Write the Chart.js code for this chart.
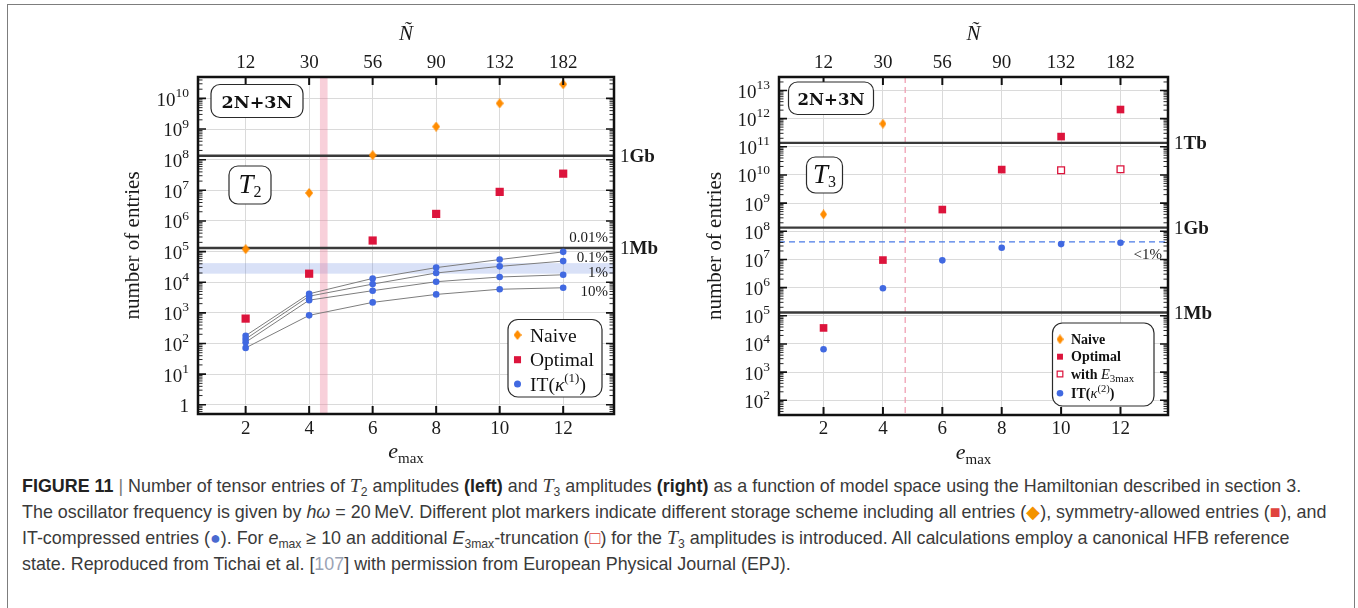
<!DOCTYPE html>
<html>
<head>
<meta charset="utf-8">
<script src="https://cdn.jsdelivr.net/npm/chart.js@4.4.1/dist/chart.umd.min.js"></script>
<style>
  html, body { margin: 0; padding: 0; background: #fff; }
  body { width: 1358px; height: 608px; position: relative; overflow: hidden; }
  #frame { position: absolute; left: 7px; top: 4px; width: 1348px; height: 660px; border: 1px solid #7d7d7d; box-sizing: border-box; }
  #t2 { position: absolute; left: 0; top: 0; }
  #t3 { position: absolute; left: 680px; top: 0; }
  #caption { position: absolute; left: 22px; top: 473px; font-family: "Liberation Sans", Arial, sans-serif; font-size: 17.9px; line-height: 25.5px; color: #3a3a3a; white-space: nowrap; }
  #caption b { color: #222; }
  #caption sub { font-size: 68%; vertical-align: -0.3em; line-height: 0; }
  #caption .cal { font-family: "Liberation Serif", serif; font-style: italic; font-size: 110%; }
  #caption .or { color: #f39200; }
  #caption .rd { color: #e0443e; }
  #caption .bl { color: #4a6ad0; }
  #caption .ref { color: #9aa3b5; }
  #caption .bar { color: #777; font-weight: normal; }
</style>
</head>
<body>
<div id="frame"></div>
<canvas id="t2" width="680" height="470"></canvas>
<canvas id="t3" width="678" height="470"></canvas>
<div id="caption">
  <div><b>FIGURE 11</b> <span class="bar">|</span> Number of tensor entries of <span class="cal">T</span><sub>2</sub> amplitudes <b>(left)</b> and <span class="cal">T</span><sub>3</sub> amplitudes <b>(right)</b> as a function of model space using the Hamiltonian described in section 3.</div>
  <div>The oscillator frequency is given by <i>hω</i> = 20&#8201;MeV. Different plot markers indicate different storage scheme including all entries (<span class="or">◆</span>), symmetry-allowed entries (<span class="rd">■</span>), and</div>
  <div>IT-compressed entries (<span class="bl">●</span>). For <i>e</i><sub>max</sub> ≥ 10 an additional <i>E</i><sub>3max</sub>-truncation (<span class="rd">□</span>) for the <span class="cal">T</span><sub>3</sub> amplitudes is introduced. All calculations employ a canonical HFB reference</div>
  <div>state. Reproduced from Tichai et al. [<span class="ref">107</span>] with permission from European Physical Journal (EPJ).</div>
</div>
<script>
// model space
const emax = [2, 4, 6, 8, 10, 12];
const nTilde = [12, 30, 56, 90, 132, 182];

// T2 amplitudes
const t2Naive   = [1.2e5, 8.2e6, 1.4e8, 1.2e9, 6.9e9, 2.9e10];
const t2Optimal = [650, 1.9e4, 2.3e5, 1.7e6, 8.9e6, 3.5e7];
const t2It001   = [180, 4.2e3, 1.33e4, 3.0e4, 5.5e4, 9.8e4];
const t2It01    = [140, 3.5e3, 8.7e3, 2.0e4, 3.3e4, 4.9e4];
const t2It1     = [110, 2.6e3, 5.3e3, 1.04e4, 1.48e4, 1.75e4];
const t2It10    = [72, 830, 2.2e3, 4.0e3, 5.9e3, 6.6e3];
const t2ItNames = ['0.01%', '0.1%', '1%', '10%'];
const t2Band = [1.9e4, 4.2e4];
const t2Cut = [4.34, 4.58];
const t2Decades = [1, 1e1, 1e2, 1e3, 1e4, 1e5, 1e6, 1e7, 1e8, 1e9, 1e10];

// T3 amplitudes
const t3Naive   = [4.0e8, 6.6e11, null, null, null, null];
const t3Optimal = [3.7e4, 9.5e6, 5.9e8, 1.55e10, 2.3e11, 2.1e12];
const t3E3max   = [null, null, null, null, 1.46e10, 1.6e10];
const t3It      = [6.5e3, 9.5e5, 9.3e6, 2.6e7, 3.5e7, 3.9e7];
const t3Level = 4.2e7;
const t3Cut = 4.75;
const t3Decades = [1e2, 1e3, 1e4, 1e5, 1e6, 1e7, 1e8, 1e9, 1e10, 1e11, 1e12, 1e13];

// storage limits in entries of 8 bytes
const memLimits = [131072, 134217728, 137438953472];
const memNames = ['Mb', 'Gb', 'Tb'];

const ORANGE = '#ff8c00', CRIMSON = '#dc143c', BLUE = '#4169e1';
const SERIF = '"Liberation Serif", "DejaVu Serif", serif';
const WIDE = '"DejaVu Serif", serif';

function f(size, style, fam) { return (style ? style + ' ' : '') + size + 'px ' + (fam || SERIF); }

function pairs(vals) {
  return emax.map((e, i) => ({x: e, y: vals[i]})).filter(p => p.y != null);
}

function diamond(w, h, color) {
  const c = document.createElement('canvas');
  c.width = w; c.height = h;
  const g = c.getContext('2d');
  g.fillStyle = color;
  g.beginPath();
  g.moveTo(w / 2, 0); g.lineTo(w, h / 2); g.lineTo(w / 2, h); g.lineTo(0, h / 2);
  g.closePath();
  g.fill();
  return c;
}

// rich text: list of pieces {t, size, style, dy, fam}
function runWidth(ctx, parts) {
  let w = 0;
  parts.forEach(p => { ctx.font = f(p.size, p.style, p.fam); w += ctx.measureText(p.t).width; });
  return w;
}
function drawRun(ctx, parts, x, y, align) {
  let cx = x;
  if (align === 'right') cx = x - runWidth(ctx, parts);
  else if (align === 'center') cx = x - runWidth(ctx, parts) / 2;
  ctx.textAlign = 'left';
  ctx.textBaseline = 'alphabetic';
  parts.forEach(p => {
    ctx.font = f(p.size, p.style, p.fam);
    ctx.fillText(p.t, cx, y + (p.dy || 0));
    cx += ctx.measureText(p.t).width;
  });
}

function roundBox(ctx, x0, y0, x1, y1, r) {
  ctx.beginPath();
  ctx.roundRect(x0, y0, x1 - x0, y1 - y0, r);
  ctx.fillStyle = '#fff';
  ctx.fill();
  ctx.lineWidth = 1.2;
  ctx.strokeStyle = '#2a2a2a';
  ctx.stroke();
}

function decadeLabel(v) {
  const k = Math.round(Math.log10(v));
  if (k === 0) return [{t: '1', size: 19}];
  return [{t: '10', size: 19}, {t: String(k), size: 13.5, dy: -8.8}];
}

function decor(cfg) {
  return {
    id: 'decor',
    beforeDatasetsDraw(chart) {
      const {ctx, chartArea: a} = chart;
      const x = chart.scales.x, y = chart.scales.y;
      ctx.save();
      ctx.beginPath();
      ctx.rect(a.left, a.top, a.width, a.height);
      ctx.clip();
      if (cfg.yBand) {
        const t = y.getPixelForValue(cfg.yBand[1]), b = y.getPixelForValue(cfg.yBand[0]);
        ctx.fillStyle = 'rgba(110,140,225,0.26)';
        ctx.fillRect(a.left, t, a.width, b - t);
      }
      if (cfg.xBand) {
        const l = x.getPixelForValue(cfg.xBand[0]), r = x.getPixelForValue(cfg.xBand[1]);
        ctx.fillStyle = 'rgba(235,120,150,0.35)';
        ctx.fillRect(l, a.top, r - l, a.height);
      }
      if (cfg.yLevel) {
        const py = y.getPixelForValue(cfg.yLevel);
        ctx.setLineDash([6, 4]);
        ctx.strokeStyle = '#4a7be6';
        ctx.lineWidth = 1.3;
        ctx.beginPath(); ctx.moveTo(a.left, py); ctx.lineTo(a.right, py); ctx.stroke();
      }
      if (cfg.xCut) {
        const px = x.getPixelForValue(cfg.xCut);
        ctx.setLineDash([6, 4]);
        ctx.strokeStyle = '#f0a0b4';
        ctx.lineWidth = 1.3;
        ctx.beginPath(); ctx.moveTo(px, a.top); ctx.lineTo(px, a.bottom); ctx.stroke();
      }
      ctx.setLineDash([]);
      ctx.strokeStyle = '#3a3a3a';
      ctx.lineWidth = 2.4;
      cfg.limits.forEach(v => {
        const py = y.getPixelForValue(v);
        ctx.beginPath(); ctx.moveTo(a.left, py); ctx.lineTo(a.right, py); ctx.stroke();
      });
      ctx.restore();
    },
    afterDraw(chart) {
      const {ctx, chartArea: a} = chart;
      const x = chart.scales.x, y = chart.scales.y;
      ctx.save();
      ctx.fillStyle = '#1a1a1a';
      ctx.strokeStyle = '#111';

      // inward ticks, top and bottom
      ctx.lineWidth = 2;
      emax.forEach(e => {
        const px = x.getPixelForValue(e);
        ctx.beginPath();
        ctx.moveTo(px, a.top); ctx.lineTo(px, a.top + 8);
        ctx.moveTo(px, a.bottom); ctx.lineTo(px, a.bottom - 8);
        ctx.stroke();
      });
      // inward ticks, left and right, with minor ticks
      cfg.decades.forEach((d, i) => {
        const py = y.getPixelForValue(d);
        ctx.lineWidth = 1.6;
        ctx.beginPath();
        ctx.moveTo(a.left, py); ctx.lineTo(a.left + 8, py);
        ctx.moveTo(a.right, py); ctx.lineTo(a.right - 8, py);
        ctx.stroke();
        ctx.lineWidth = 0.9;
        [d / 10, d].forEach(base => {
          if (base === d / 10 && i > 0) return;
          for (let m = 2; m <= 9; m++) {
            const v = base * m;
            if (v < y.min || v > y.max) continue;
            const q = y.getPixelForValue(v);
            ctx.beginPath();
            ctx.moveTo(a.left, q); ctx.lineTo(a.left + 4.5, q);
            ctx.moveTo(a.right, q); ctx.lineTo(a.right - 4.5, q);
            ctx.stroke();
          }
        });
      });

      // frame
      ctx.lineWidth = 2.5;
      ctx.strokeRect(a.left, a.top, a.width, a.height);

      // decade labels
      cfg.decades.forEach(d => {
        const py = y.getPixelForValue(d);
        drawRun(ctx, decadeLabel(d), a.left - 9, py + 7.4, 'right');
      });

      // storage limit labels
      cfg.limits.forEach((v, i) => {
        const py = y.getPixelForValue(v);
        drawRun(ctx, [{t: '1', size: 19}, {t: memNames[i], size: 19, style: 'bold'}], a.right + 6, py + 6.5);
      });

      // compression threshold labels
      (cfg.tags || []).forEach(tg => {
        const py = y.getPixelForValue(tg.value) + tg.dy;
        drawRun(ctx, [{t: tg.text, size: 15}], a.right - 6, py + 5, 'right');
      });

      // boxes
      cfg.boxes.forEach(b => {
        roundBox(ctx, b.x0, b.y0, b.x1, b.y1, 9);
        ctx.fillStyle = '#111';
        drawRun(ctx, b.text, (b.x0 + b.x1) / 2, b.base, 'center');
      });

      // legend
      const L = cfg.legend;
      roundBox(ctx, L.x0, L.y0, L.x1, L.y1, 10);
      L.rows.forEach(r => {
        const ds = chart.data.datasets[r.ds];
        ctx.fillStyle = ds.pointBackgroundColor;
        ctx.strokeStyle = ds.pointBorderColor;
        Chart.helpers.drawPoint(ctx, {pointStyle: ds.pointStyle, radius: r.radius, rotation: 0, borderWidth: ds.pointBorderWidth}, L.mx, r.y);
        ctx.fillStyle = '#111';
        drawRun(ctx, r.text, L.tx, r.y + L.shift);
      });

      // bottom axis title
      ctx.fillStyle = '#1a1a1a';
      drawRun(ctx, [{t: 'e', size: 22, style: 'italic'}, {t: 'max', size: 15, dy: 4.5}], (a.left + a.right) / 2, cfg.titleBase, 'center');
      ctx.restore();
    }
  };
}

function axes(cfg) {
  const tickFont = {family: SERIF, size: 19};
  return {
    x: {
      type: 'linear', position: 'bottom', min: 0.5, max: 13.6,
      afterBuildTicks: s => { s.ticks = emax.map(v => ({value: v})); },
      afterFit: s => { s.height = cfg.bottomH; },
      grid: {color: '#dadada', lineWidth: 1, drawTicks: false},
      border: {display: false},
      ticks: {font: tickFont, color: '#1a1a1a', padding: cfg.bottomPad, maxRotation: 0}
    },
    x2: {
      type: 'linear', position: 'top', min: 0.5, max: 13.6,
      afterBuildTicks: s => { s.ticks = emax.map(v => ({value: v})); },
      afterFit: s => { s.height = 77; },
      grid: {display: false, drawTicks: false},
      border: {display: false},
      ticks: {font: tickFont, color: '#1a1a1a', padding: 2.6, maxRotation: 0,
              callback: v => nTilde[emax.indexOf(v)]},
      title: {display: true, text: 'Ñ', font: {family: SERIF, size: 21, style: 'italic'}, color: '#1a1a1a', padding: {top: 22, bottom: 0}}
    },
    y: {
      type: 'logarithmic', min: cfg.ymin, max: cfg.ymax,
      afterBuildTicks: s => { s.ticks = cfg.decades.map(v => ({value: v})); },
      afterFit: s => { s.width = cfg.yW; },
      grid: {color: '#dadada', lineWidth: 1, drawTicks: false},
      border: {display: false},
      ticks: {display: false},
      title: {display: true, text: 'number of entries', font: {family: SERIF, size: 21}, color: '#1a1a1a', padding: {top: 0.5, bottom: 0}}
    }
  };
}

const diamondImg = diamond(8, 10, ORANGE);
const smallDiamond = diamond(7, 10, ORANGE);

function itLine(vals) {
  return {data: pairs(vals), showLine: true, borderColor: '#7d7d7d', borderWidth: 1,
          pointStyle: 'circle', pointRadius: 3.3, pointBackgroundColor: BLUE, pointBorderColor: BLUE, pointBorderWidth: 0};
}

new Chart(document.getElementById('t2'), {
  type: 'scatter',
  data: {
    datasets: [
      {label: 'Naive', data: pairs(t2Naive), pointStyle: diamondImg, pointRadius: 5, pointBackgroundColor: ORANGE, pointBorderColor: ORANGE, pointBorderWidth: 0},
      {label: 'Optimal', data: pairs(t2Optimal), pointStyle: 'rect', pointRadius: 5.8, pointBackgroundColor: CRIMSON, pointBorderColor: CRIMSON, pointBorderWidth: 0},
      itLine(t2It10), itLine(t2It1), itLine(t2It01), itLine(t2It001)
    ]
  },
  options: {
    responsive: false, animation: false, events: [],
    layout: {padding: {left: 120, right: 66, top: 0, bottom: 0}, autoPadding: false},
    plugins: {legend: {display: false}, tooltip: {enabled: false}},
    scales: axes({bottomH: 56, bottomPad: 3.6, ymin: 0.5, ymax: 5e10, decades: t2Decades, yW: 78})
  },
  plugins: [decor({
    decades: t2Decades,
    limits: memLimits.slice(0, 2),
    yBand: t2Band,
    xBand: t2Cut,
    tags: [
      {text: t2ItNames[0], value: t2It001[5], dy: -15},
      {text: t2ItNames[1], value: t2It01[5], dy: -4.5},
      {text: t2ItNames[2], value: t2It1[5], dy: -2.3},
      {text: t2ItNames[3], value: t2It10[5], dy: 3.7}
    ],
    boxes: [
      {x0: 211, y0: 84.5, x1: 303, y1: 117.5, base: 107.5, text: [{t: '2N+3N', size: 17.5, style: 'bold', fam: WIDE}]},
      {x0: 229, y0: 166, x1: 271, y1: 204, base: 193, text: [{t: 'T', size: 27, style: 'italic'}, {t: '2', size: 16, dy: 4}]}
    ],
    legend: {
      x0: 508, y0: 319.5, x1: 602, y1: 397, mx: 517.5, tx: 530, shift: 6.5,
      rows: [
        {ds: 0, y: 335, radius: 5, text: [{t: 'Naive', size: 19.5}]},
        {ds: 1, y: 359.7, radius: 5, text: [{t: 'Optimal', size: 19.5}]},
        {ds: 2, y: 384, radius: 3.5, text: [{t: 'IT(', size: 19.5}, {t: 'κ', size: 19.5, style: 'italic'}, {t: '(1)', size: 13, dy: -8.5}, {t: ')', size: 19.5}]}
      ]
    },
    titleBase: 458
  })]
});

new Chart(document.getElementById('t3'), {
  type: 'scatter',
  data: {
    datasets: [
      {label: 'Naive', data: pairs(t3Naive), pointStyle: smallDiamond, pointRadius: 5, pointBackgroundColor: ORANGE, pointBorderColor: ORANGE, pointBorderWidth: 0},
      {label: 'Optimal', data: pairs(t3Optimal), pointStyle: 'rect', pointRadius: 5.4, pointBackgroundColor: CRIMSON, pointBorderColor: CRIMSON, pointBorderWidth: 0},
      {label: 'with E3max', data: pairs(t3E3max), pointStyle: 'rect', pointRadius: 4.8, pointBackgroundColor: '#fff', pointBorderColor: CRIMSON, pointBorderWidth: 1.3},
      {label: 'IT', data: pairs(t3It), pointStyle: 'circle', pointRadius: 3.3, pointBackgroundColor: BLUE, pointBorderColor: BLUE, pointBorderWidth: 0}
    ]
  },
  options: {
    responsive: false, animation: false, events: [],
    layout: {padding: {left: 22, right: 190, top: 0, bottom: 0}, autoPadding: false},
    plugins: {legend: {display: false}, tooltip: {enabled: false}},
    scales: axes({bottomH: 55, bottomPad: 2.6, ymin: 30, ymax: 3e13, decades: t3Decades, yW: 77})
  },
  plugins: [decor({
    decades: t3Decades,
    limits: memLimits,
    yLevel: t3Level,
    xCut: t3Cut,
    tags: [{text: '<1%', value: t3Level, dy: 12}],
    boxes: [
      {x0: 788.5 - 680, y0: 82, x1: 873.5 - 680, y1: 114.5, base: 104.5, text: [{t: '2N+3N', size: 16.5, style: 'bold', fam: WIDE}]},
      {x0: 806.5 - 680, y0: 157, x1: 842.5 - 680, y1: 193, base: 183, text: [{t: 'T', size: 27, style: 'italic'}, {t: '3', size: 16, dy: 4}]}
    ],
    legend: {
      x0: 1052.5 - 680, y0: 323, x1: 1154 - 680, y1: 406, mx: 1060 - 680, tx: 1071 - 680, shift: 4.5,
      rows: [
        {ds: 0, y: 339.3, radius: 4, text: [{t: 'Naive', size: 14, style: 'bold'}]},
        {ds: 1, y: 356.7, radius: 4.2, text: [{t: 'Optimal', size: 14, style: 'bold'}]},
        {ds: 2, y: 374, radius: 4, text: [{t: 'with ', size: 14, style: 'bold'}, {t: 'E', size: 14.5, style: 'italic'}, {t: '3max', size: 11, dy: 3}]},
        {ds: 3, y: 393.3, radius: 3.3, text: [{t: 'IT(', size: 14, style: 'bold'}, {t: 'κ', size: 14.5, style: 'italic'}, {t: '(2)', size: 10.5, dy: -6}, {t: ')', size: 14, style: 'bold'}]}
      ]
    },
    titleBase: 459
  })]
});
</script>
</body>
</html>
